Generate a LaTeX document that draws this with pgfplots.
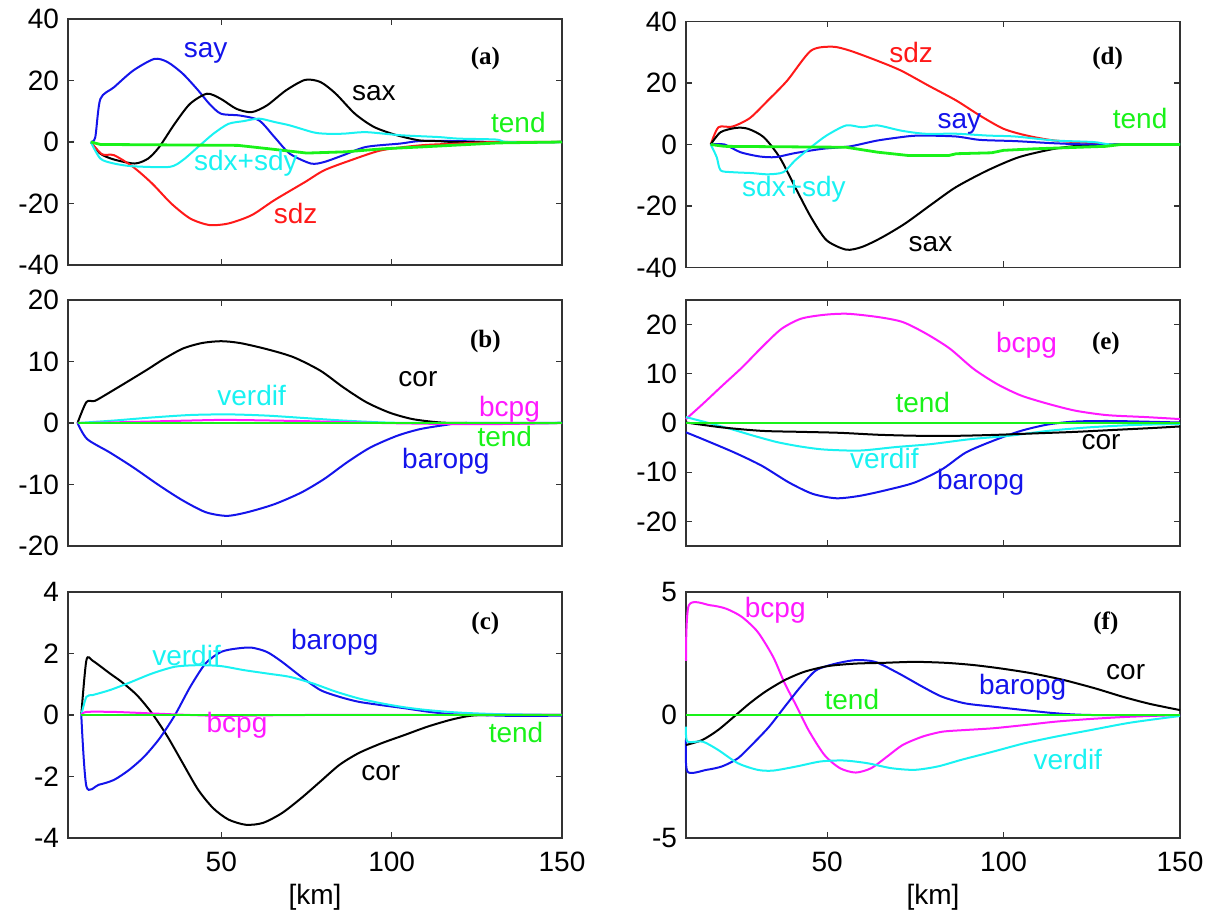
\documentclass[border=0pt]{standalone}
\usepackage{fontspec}
\setmainfont{Liberation Sans}
\newfontfamily\timesfont{Liberation Serif}
\usepackage{pgfplots}
\pgfplotsset{compat=1.18}
\definecolor{cgreen}{rgb}{0.1,0.95,0.1}
\definecolor{cblue}{rgb}{0.08,0.08,0.92}
\definecolor{ccyan}{rgb}{0.1,0.95,0.95}
\definecolor{cmag}{rgb}{1,0.1,1}
\definecolor{cred}{rgb}{1,0.1,0.1}
\pgfplotsset{
  panel/.style={
    scale only axis, width=247pt, height=123pt,
    anchor=south west,
    tick align=inside, tick pos=both, ticklabel pos=left,
    major tick length=3pt,
    axis line style={line width=0.7pt, black!80},
    every tick/.style={black!80, line width=0.6pt},
    tick label style={font=\fontsize{14}{16}\selectfont},
    /pgf/number format/assume math mode=true,
    xtick={50,100,150}, xmax=150,
    every axis plot/.append style={line width=1pt, no markers, smooth, tension=0.45},
    yticklabel style={xshift=-1pt},
    xticklabel style={yshift=-3.5pt},
    clip=false,
  },
  notick/.style={xticklabels={}},
  kmlabel/.style={xlabel={[km]}, xlabel style={font=\fontsize{14}{16}\selectfont, at={(axis description cs:0.5,0)}, anchor=center, yshift=-29.5pt}},
  gr/.style={cgreen, line width=1.4pt, sharp plot},
}
\newcommand\lab[4]{\node[text=#1, font=\fontsize{14}{16}\selectfont, inner sep=0pt] at (axis cs:#2,#3) {#4};}
\newcommand\plab[3]{\node[font=\timesfont\bfseries\fontsize{12.5}{14}\selectfont, inner sep=0pt] at (axis cs:#1,#2) {#3};}
\begin{document}
\begin{tikzpicture}
\path[use as bounding box] (0,0) rectangle (608.5pt,458pt);
% (a)
\begin{axis}[panel, notick, at={(34pt,325.5pt)}, xmin=5, ymin=-40, ymax=40, ytick={-40,-20,0,20,40}]
\addplot[cblue] coordinates {(11.7,0) (13.0,1.5) (14.5,14) (18.5,17.8) (24.1,23.2) (30.3,27) (34.2,26) (38.7,22.2) (43.2,16.8) (46.5,12.4) (49.9,9.2) (55.5,8.6) (61.1,7) (65.6,1.6) (70.1,-3.8) (76.3,-7) (80.2,-6.5) (85.8,-4.3) (92.5,-1.6) (102.6,-0.5) (108.3,0.3) (119.5,0.3) (130.7,0) (150,0)};
\addplot[black] coordinates {(11.7,0) (14.5,-3.8) (18.5,-5.7) (24.6,-7) (28.5,-5.4) (31.8,-1.6) (36.3,5.9) (40.8,12.4) (45.8,15.7) (49.9,14) (54.4,10.8) (58.9,9.7) (63.4,11.9) (69,16.8) (74.6,20.2) (79.1,19.5) (83.6,15.7) (89.2,9.2) (94.8,4.9) (101.5,2.2) (108.3,0.5) (113.9,0.3) (119.5,0) (150,0)};
\addplot[cred] coordinates {(11.7,0) (15,-4) (18.5,-4.3) (24.1,-8.1) (29.7,-13.5) (35.3,-20) (40.9,-24.9) (46.5,-27) (52.1,-26.5) (58.9,-23.8) (65.6,-18.9) (74.6,-13) (80.2,-9.2) (88.1,-5.9) (97,-2.7) (108.3,-1.1) (119.5,-0.5) (130.7,0) (150,0)};
\addplot[ccyan] coordinates {(11.7,0) (14.5,-5.4) (18.5,-7) (24.1,-7.9) (34.8,-8.1) (38.7,-5.9) (43.2,-1.6) (47.7,2.7) (52.1,5.9) (56.6,6.8) (61.1,7.6) (65.6,6.5) (70.1,5.4) (76.8,3.2) (80.2,2.7) (85.8,2.7) (92.5,3.2) (102.6,2.2) (113.9,1.6) (119.5,1.1) (130.7,0.8) (134,0) (150,0)};
\addplot[gr] coordinates {(11.7,0) (14.5,-0.8) (54.9,-1.1) (63.9,-2.2) (75.1,-3.6) (86.4,-3.2) (97.6,-2.2) (108.8,-1.6) (131.3,-0.3) (150,0)};
\lab{cblue}{45.4}{29}{say}
\lab{black}{94.8}{15.9}{sax}
\lab{cgreen}{137.2}{6.2}{tend}
\lab{ccyan}{57.2}{-6.9}{sdx+sdy}
\lab{cred}{71.8}{-23.1}{sdz}
\plab{127.5}{27}{(a)}
\end{axis}
% (d)
\begin{axis}[panel, notick, at={(343pt,324.25pt)}, xmin=10, ymin=-40, ymax=40, ytick={-40,-20,0,20,40}]
\addplot[cred] coordinates {(17,0) (19.2,5.6) (23.1,5.8) (28.1,8.6) (33.2,14.3) (38.7,20.8) (45.4,30.5) (51.5,31.8) (56.5,30.5) (64.3,27.2) (71,24) (78.8,19.1) (86.6,14.3) (93.3,9.4) (100,5.1) (106.6,2.9) (114.4,1.3) (125.5,0.4) (131.1,0) (150,0)};
\addplot[black] coordinates {(17,0) (19.8,4) (24.2,5.4) (27.6,5.1) (32,2.4) (36.5,-4.1) (40.9,-13.8) (45.4,-23.6) (49.8,-31.1) (55.4,-34.2) (59.9,-33.3) (65.4,-30.3) (72.1,-25.7) (79.9,-19.2) (86.6,-13.8) (95.5,-8.4) (104.4,-4.1) (114.4,-1.4) (122.2,-0.3) (131.1,0) (150,0)};
\addplot[cblue] coordinates {(17,0) (20.9,0) (25.4,-2.5) (30.9,-3.9) (35.4,-4.1) (40.9,-2.8) (48.7,-1.4) (56.5,-0.6) (64.3,1.3) (73.2,2.7) (77.7,2.9) (86.6,2.6) (93.3,1.5) (103.3,1.1) (114.4,0.4) (125.5,0) (150,0)};
\addplot[ccyan] coordinates {(17,0) (18.7,-4.1) (19.8,-8.4) (23.1,-9) (28.7,-9.3) (33.2,-9.7) (37.6,-9) (40.9,-5.2) (45.4,-0.9) (49.8,2.9) (55.4,6.2) (59.9,5.6) (64.3,6.2) (71,4.5) (77.7,3.5) (86.6,3.5) (95.5,2.9) (103.3,2.6) (114.4,1.3) (125.5,0.8) (131.1,0) (150,0)};
\addplot[gr] coordinates {(17,0) (20.9,-0.6) (55.4,-0.9) (64.3,-2.5) (73.2,-3.6) (84.4,-3.6) (86.6,-3) (96.6,-2.7) (100,-1.9) (108.8,-1.4) (128.9,-0.6) (133.3,0) (150,0)};
\lab{cred}{73.8}{29.9}{sdz}
\lab{cblue}{87.5}{6.7}{say}
\lab{cgreen}{138.7}{8.3}{tend}
\lab{ccyan}{40.6}{-14.4}{sdx+sdy}
\lab{black}{79.3}{-32.4}{sax}
\plab{129.5}{28.1}{(d)}
\end{axis}
% (b)
\begin{axis}[panel, notick, at={(34pt,185pt)}, xmin=5, ymin=-20, ymax=20, ytick={-20,-10,0,10,20}]
\addplot[black] coordinates {(7.8,0) (10.4,3.4) (12.9,3.6) (17.3,5) (23,6.9) (28.6,8.8) (33.1,10.4) (38.7,12.1) (44.3,13) (49.9,13.3) (55.5,13) (63.4,12) (71.2,10.7) (79.1,8.5) (85.8,5.8) (92.5,3.4) (99.3,1.7) (106,0.65) (113.9,0.1) (121.7,0) (150,0)};
\addplot[cblue] coordinates {(7.8,0) (10.6,-2.6) (17.3,-4.8) (24.1,-7.2) (31.9,-10.2) (38.7,-12.6) (45.4,-14.5) (51.6,-15.1) (57.7,-14.5) (65.6,-13.2) (73.5,-11.3) (80.2,-9.1) (86.9,-6.4) (93.7,-4) (101.5,-2.1) (108.3,-1) (116.1,-0.3) (121.7,0) (150,0)};
\addplot[ccyan] coordinates {(7.8,0) (18.5,0.4) (29.7,0.9) (40.9,1.3) (52.1,1.4) (63.4,1.2) (74.6,0.8) (85.8,0.4) (97,0.1) (108.3,0) (150,0)};
\addplot[cmag] coordinates {(7.8,0) (18.5,0.1) (40.9,0.4) (52.1,0.5) (74.6,0.3) (97,0) (125.1,-0.2) (150,0)};
\addplot[gr] coordinates {(7.8,0) (150,0)};
\lab{black}{107.7}{7.2}{cor}
\lab{ccyan}{58.9}{4.4}{verdif}
\lab{cmag}{134.6}{2.3}{bcpg}
\lab{cgreen}{133.2}{-2.2}{tend}
\lab{cblue}{115.9}{-6.3}{baropg}
\plab{127.5}{13.2}{(b)}
\end{axis}
% (e)
\begin{axis}[panel, notick, at={(343pt,185pt)}, xmin=10, ymin=-25, ymax=25, ytick={-20,-10,0,10,20}]
\addplot[cmag] coordinates {(10,0.8) (14.8,3.9) (20.3,7.6) (25.9,11.3) (31.5,15.4) (37,19.1) (42.6,21.2) (49.3,22) (55.9,22.2) (64.8,21.5) (71.5,20.5) (78.2,18.1) (84.8,15.1) (91.5,11) (98.2,7.9) (104.9,5.6) (112.6,3.9) (120.4,2.5) (129.3,1.6) (140.4,1.2) (150,0.8)};
\addplot[cblue] coordinates {(10,-1.9) (14.8,-3.3) (23.7,-6) (31.5,-8.7) (39.2,-12.1) (45.9,-14.4) (52.6,-15.3) (59.3,-14.8) (67,-13.6) (74.8,-12.1) (82.6,-9.4) (89.3,-6) (97.1,-3.6) (104.9,-1.6) (112.6,-0.3) (120.4,0.3) (131.5,0.4) (150,0.1)};
\addplot[ccyan] coordinates {(10,1.2) (15.9,0.1) (22.6,-1.2) (29.2,-2.6) (35.9,-3.9) (42.6,-4.8) (49.3,-5.4) (59.3,-5.6) (69.3,-4.9) (79.3,-4.3) (90.4,-3.3) (101.5,-2.6) (112.6,-1.6) (123.8,-0.9) (137.1,-0.4) (150,-0.2)};
\addplot[black] coordinates {(10,0.1) (20.3,-0.9) (31.5,-1.6) (42.6,-1.8) (53.7,-2) (64.8,-2.4) (75.9,-2.6) (87.1,-2.6) (98.2,-2.4) (109.3,-2.1) (120.4,-1.8) (131.5,-1.4) (142.7,-1) (150,-0.7)};
\addplot[gr] coordinates {(10,0) (150,0)};
\lab{cmag}{106.5}{15.7}{bcpg}
\lab{cgreen}{77.1}{4.1}{tend}
\lab{black}{127.6}{-3.8}{cor}
\lab{ccyan}{66.2}{-7.2}{verdif}
\lab{cblue}{93.5}{-12.1}{baropg}
\plab{129}{16.1}{(e)}
\end{axis}
% (c)
\begin{axis}[panel, kmlabel, at={(34pt,39pt)}, xmin=5, ymin=-4, ymax=4, ytick={-4,-2,0,2,4}]
\addplot[black] coordinates {(8.9,0) (10.4,1.78) (12.3,1.76) (17.3,1.35) (20.7,1.08) (25.2,0.65) (29.7,0.05) (34.2,-0.7) (38.7,-1.57) (43.2,-2.43) (47.6,-3.03) (52.1,-3.4) (57.2,-3.57) (62.2,-3.51) (67.8,-3.19) (73.5,-2.7) (79.1,-2.16) (84.7,-1.62) (90.3,-1.24) (97,-0.92) (103.8,-0.65) (110.5,-0.38) (117.2,-0.16) (122.8,-0.03) (128.5,0) (150,0)};
\addplot[cblue] coordinates {(8.9,0) (10.4,-2.32) (14,-2.27) (18.5,-2.11) (23,-1.78) (27.4,-1.35) (31.9,-0.76) (36.4,0) (40.9,0.92) (45.4,1.68) (49.9,2.05) (54.4,2.16) (58.9,2.19) (63.4,2.05) (67.8,1.73) (73.5,1.24) (79.1,0.81) (84.7,0.59) (90.3,0.43) (97,0.32) (103.8,0.22) (110.5,0.11) (117.2,0.03) (125.1,0) (136.3,-0.03) (150,-0.02)};
\addplot[ccyan] coordinates {(8.9,0) (10.4,0.59) (12.3,0.65) (17.3,0.81) (23,1.05) (29.7,1.35) (36.4,1.57) (43.2,1.62) (49.9,1.59) (56.6,1.46) (63.4,1.35) (70.1,1.24) (76.8,1.03) (83.6,0.76) (90.3,0.54) (97,0.38) (103.8,0.25) (110.5,0.16) (119.5,0.08) (130.7,0.03) (150,0)};
\addplot[cmag] coordinates {(8.9,0) (10.4,0.1) (18.5,0.1) (29.7,0.05) (40.9,0) (52.1,-0.03) (74.6,0) (150,0)};
\addplot[gr] coordinates {(8.9,0) (150,0)};
\lab{cblue}{83.3}{2.38}{baropg}
\lab{ccyan}{39.8}{1.95}{verdif}
\lab{cmag}{54.6}{-0.32}{bcpg}
\lab{cgreen}{136.5}{-0.57}{tend}
\lab{black}{96.8}{-1.89}{cor}
\plab{127.5}{2.97}{(c)}
\end{axis}
% (f)
\begin{axis}[panel, kmlabel, at={(343pt,39pt)}, xmin=10, ymin=-5, ymax=5, ytick={-5,0,5}]
\addplot[cmag] coordinates {(10,2.2) (10.8,4.46) (16.9,4.46) (21.4,4.32) (25.8,3.99) (30.3,3.38) (34.7,2.36) (38,1.28) (41.4,0.34) (44.7,-0.61) (49.2,-1.62) (53.6,-2.16) (58.1,-2.34) (62.5,-2.16) (67,-1.69) (71.4,-1.22) (77,-0.88) (82.6,-0.68) (89.2,-0.61) (97,-0.54) (105.9,-0.41) (114.8,-0.27) (124.8,-0.16) (136,-0.07) (150,0)};
\addplot[cblue] coordinates {(10,-1) (10.4,-2.3) (15.8,-2.23) (20.2,-2.09) (24.7,-1.76) (29.1,-1.15) (33.6,-0.47) (38,0.34) (42.5,1.15) (46.9,1.82) (52.5,2.09) (58.1,2.23) (63.6,2.16) (70.3,1.69) (77,1.15) (82.6,0.74) (89.2,0.47) (97,0.34) (105.9,0.2) (114.8,0.07) (124.8,0) (150,0)};
\addplot[black] coordinates {(10,-1.22) (14.7,-1.01) (19.1,-0.61) (23.6,-0.07) (28,0.47) (32.5,0.95) (38,1.42) (43.6,1.76) (50.3,1.99) (58.1,2.09) (65.9,2.12) (74.8,2.16) (83.7,2.12) (91.5,2.03) (99.3,1.89) (108.2,1.69) (117.1,1.42) (126,1.08) (133.8,0.74) (141.5,0.45) (150,0.2)};
\addplot[ccyan] coordinates {(10,-0.47) (10.4,-1.08) (14.7,-1.08) (19.1,-1.42) (24.7,-1.96) (30.3,-2.23) (34.7,-2.26) (41.4,-2.09) (48.1,-1.89) (54.7,-1.85) (61.4,-1.96) (68.1,-2.16) (74.8,-2.23) (81.4,-2.09) (88.1,-1.82) (97,-1.49) (105.9,-1.15) (114.8,-0.88) (124.8,-0.61) (136,-0.31) (150,-0.04)};
\addplot[gr] coordinates {(10,0) (150,0)};
\lab{cmag}{35.3}{4.26}{bcpg}
\lab{black}{134.6}{1.76}{cor}
\lab{cblue}{105.4}{1.12}{baropg}
\lab{cgreen}{57}{0.61}{tend}
\lab{ccyan}{118.2}{-1.8}{verdif}
\plab{129}{3.74}{(f)}
\end{axis}
\end{tikzpicture}
\end{document}
